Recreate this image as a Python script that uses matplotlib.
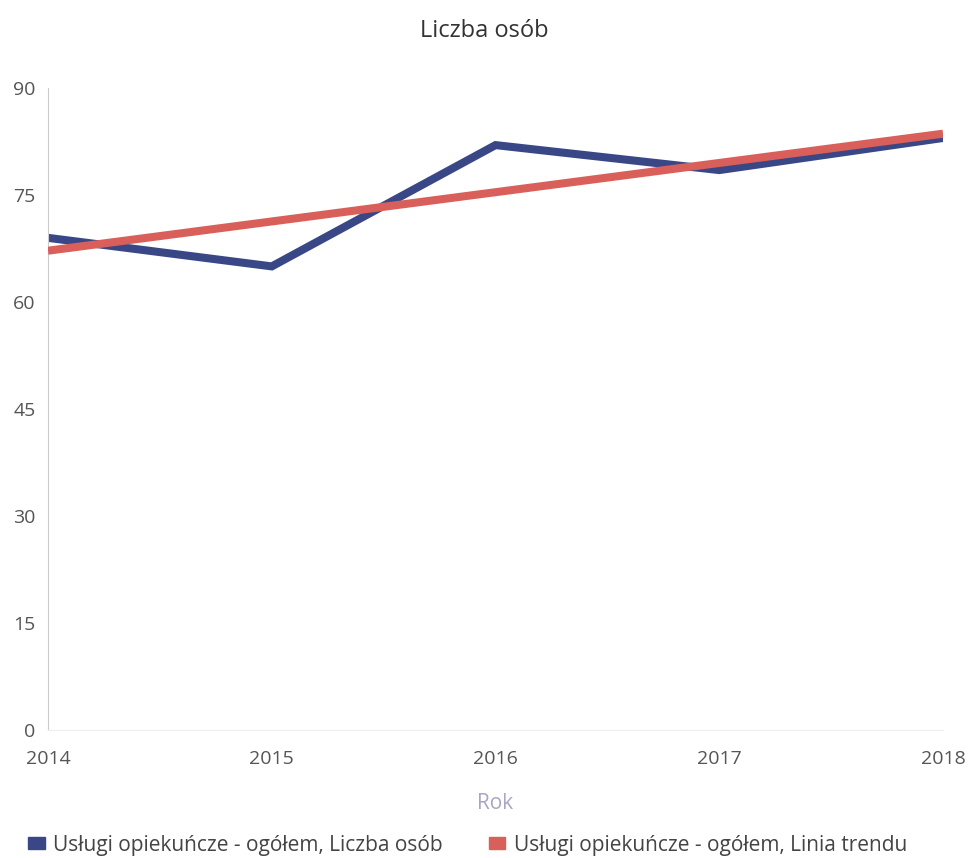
import matplotlib
matplotlib.use("Agg")
import matplotlib.pyplot as plt
from matplotlib.patches import Patch

plt.rcParams["font.family"] = ["Open Sans", "DejaVu Sans"]

# Dane
lata = [2014, 2015, 2016, 2017, 2018]
liczba_osob = [69, 65, 82, 78.5, 83]
trend_lata = [2014, 2018]
trend = [67.2, 83.6]
y_ticki = [0, 15, 30, 45, 60, 75, 90]

NIEBIESKI = "#3a4786"
CZERWONY = "#d9605a"
SZARY = "#555555"

fig = plt.figure(figsize=(9.68, 8.58), dpi=100)
ax = fig.add_axes([0.0496, 0.149, 0.9246, 0.7484])

ax.plot(lata, liczba_osob, color=NIEBIESKI, lw=5.8, solid_joinstyle="miter",
        solid_capstyle="butt", zorder=2)
ax.plot(trend_lata, trend, color=CZERWONY, lw=5.8, solid_capstyle="butt", zorder=3)

ax.set_xlim(2014, 2018)
ax.set_ylim(0, 90)
ax.set_xticks(lata)
ax.set_yticks(y_ticki)
ax.tick_params(axis="both", length=0, labelsize=14, colors=SZARY)
ax.tick_params(axis="y", pad=9)
ax.tick_params(axis="x", pad=14)

for s in ("top", "right"):
    ax.spines[s].set_visible(False)
ax.spines["bottom"].set_color("#eeeeee")
ax.spines["bottom"].set_linewidth(0.8)
ax.spines["left"].set_color("#cccccc")
ax.spines["left"].set_linewidth(0.8)

ax.set_xlabel("Rok", color="#a9a6c4", fontsize=15, labelpad=18)
fig.text(0.5, 0.964, "Liczba osób", ha="center", va="center", fontsize=17,
         color="#333333")

uchwyty = [Patch(color=NIEBIESKI), Patch(color=CZERWONY)]
fig.legend(uchwyty,
           ["Usługi opiekuńcze - ogółem, Liczba osób",
            "Usługi opiekuńcze - ogółem, Linia trendu"],
           loc="center", bbox_to_anchor=(0.483, 0.015), ncol=2, frameon=False,
           fontsize=15, labelcolor="#444444", handletextpad=0.4,
           columnspacing=2.2, handlelength=0.8, handleheight=0.5)

fig.savefig("out.png", dpi=100)
